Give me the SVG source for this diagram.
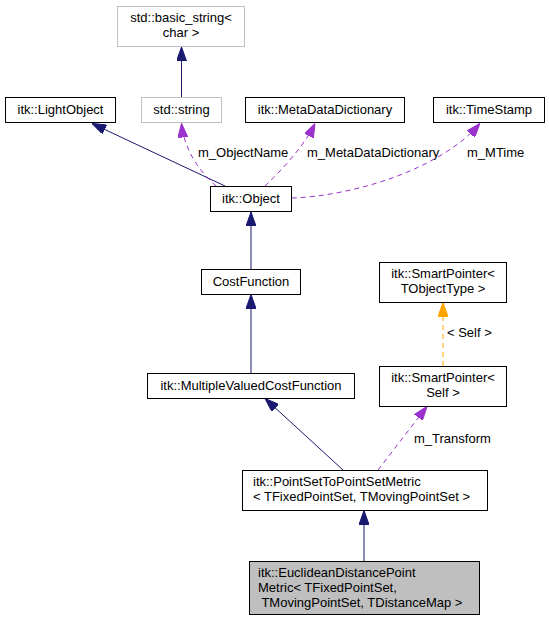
<svg xmlns="http://www.w3.org/2000/svg" width="549" height="621" viewBox="0 0 549 621">
<style>
text{font-family:"Liberation Sans",Arial,sans-serif;font-size:13px;fill:#000}
.c{text-anchor:middle}
.n{fill:#fff;stroke:#000;stroke-width:1}
.g{fill:#fff;stroke:#bfbfbf;stroke-width:1}
.h{fill:#bfbfbf;stroke:#000;stroke-width:1}
.e{fill:none;stroke:#191970;stroke-width:1}
.p{fill:none;stroke:#9a32cd;stroke-width:1;stroke-dasharray:5,4}
.o{fill:none;stroke:#ffa500;stroke-width:1;stroke-dasharray:5,4}
</style>
<defs>
<marker id="ab" markerUnits="userSpaceOnUse" markerWidth="14" markerHeight="10" refX="14" refY="5" orient="auto" viewBox="0 0 14 10"><path d="M0,0 L14,5 L0,10 z" fill="#191970" stroke="#191970" stroke-width="1"/></marker>
<marker id="ap" markerUnits="userSpaceOnUse" markerWidth="14" markerHeight="10" refX="14" refY="5" orient="auto" viewBox="0 0 14 10"><path d="M0,0 L14,5 L0,10 z" fill="#9a32cd" stroke="#9a32cd" stroke-width="1"/></marker>
<marker id="ao" markerUnits="userSpaceOnUse" markerWidth="14" markerHeight="10" refX="14" refY="5" orient="auto" viewBox="0 0 14 10"><path d="M0,0 L14,5 L0,10 z" fill="#ffa500" stroke="#ffa500" stroke-width="1"/></marker>
</defs>
<g id="connectors">
<path class="e" d="M181.5,97 L181.5,47" marker-end="url(#ab)"/>
<path class="e" d="M225,186 L92,123.5" marker-end="url(#ab)"/>
<path class="p" d="M216,186 C200,172 184,150 181.5,123.5" marker-end="url(#ap)"/>
<text x="198" y="157">m_ObjectName</text>
<path class="p" d="M265,186 C282,170 304,146 315,123.5" marker-end="url(#ap)"/>
<text x="307" y="157">m_MetaDataDictionary</text>
<path class="p" d="M292,198 C352,196 440,170 480,123.5" marker-end="url(#ap)"/>
<text x="467" y="157">m_MTime</text>
<path class="e" d="M251,269 L251,212" marker-end="url(#ab)"/>
<path class="e" d="M251,373 L251,294.5" marker-end="url(#ab)"/>
<path class="o" d="M443,366 L443,302.5" marker-end="url(#ao)"/>
<text x="447" y="337">&lt; Self &gt;</text>
<path class="e" d="M343,470 L265,398.5" marker-end="url(#ab)"/>
<path class="p" d="M378,470 L427,406.5" marker-end="url(#ap)"/>
<text x="414" y="443">m_Transform</text>
<path class="e" d="M364,561 L364,510.5" marker-end="url(#ab)"/>
</g>
<g id="node_basic_string">
<rect class="g" x="117.5" y="6.5" width="127" height="40"/>
<text class="c" x="181" y="22">std::basic_string&lt;</text>
<text class="c" x="181" y="37">char &gt;</text>
</g>
<g id="node_LightObject">
<rect class="n" x="5.5" y="97.5" width="110" height="25"/>
<text class="c" x="60.5" y="114">itk::LightObject</text>
</g>
<g id="node_string">
<rect class="g" x="141.5" y="97.5" width="80" height="25"/>
<text class="c" x="181.5" y="114">std::string</text>
</g>
<g id="node_MetaDataDictionary">
<rect class="n" x="245.5" y="97.5" width="159" height="25"/>
<text class="c" x="325" y="114">itk::MetaDataDictionary</text>
</g>
<g id="node_TimeStamp">
<rect class="n" x="433.5" y="97.5" width="111" height="25"/>
<text class="c" x="489" y="114">itk::TimeStamp</text>
</g>
<g id="node_Object">
<rect class="n" x="210.5" y="186.5" width="81" height="25"/>
<text class="c" x="251" y="203">itk::Object</text>
</g>
<g id="node_CostFunction">
<rect class="n" x="201.5" y="269.5" width="99" height="25"/>
<text class="c" x="251" y="286">CostFunction</text>
</g>
<g id="node_SmartPointerTObjectType">
<rect class="n" x="379.5" y="262.5" width="127" height="40"/>
<text class="c" x="443" y="278">itk::SmartPointer&lt;</text>
<text class="c" x="443" y="293">TObjectType &gt;</text>
</g>
<g id="node_MultipleValuedCostFunction">
<rect class="n" x="147.5" y="373.5" width="207" height="25"/>
<text class="c" x="251" y="390">itk::MultipleValuedCostFunction</text>
</g>
<g id="node_SmartPointerSelf">
<rect class="n" x="379.5" y="366.5" width="127" height="40"/>
<text class="c" x="443" y="382">itk::SmartPointer&lt;</text>
<text class="c" x="443" y="397">Self &gt;</text>
</g>
<g id="node_PointSetToPointSetMetric">
<rect class="n" x="242.5" y="470.5" width="245" height="40"/>
<text x="253" y="486">itk::PointSetToPointSetMetric</text>
<text x="253" y="501">&lt; TFixedPointSet, TMovingPointSet &gt;</text>
</g>
<g id="node_EuclideanDistancePointMetric">
<rect class="h" x="249.5" y="561.5" width="230" height="53"/>
<text x="258" y="577">itk::EuclideanDistancePoint</text>
<text x="258" y="592">Metric&lt; TFixedPointSet,</text>
<text x="258" y="607" xml:space="preserve"> TMovingPointSet, TDistanceMap &gt;</text>
</g>
</svg>
